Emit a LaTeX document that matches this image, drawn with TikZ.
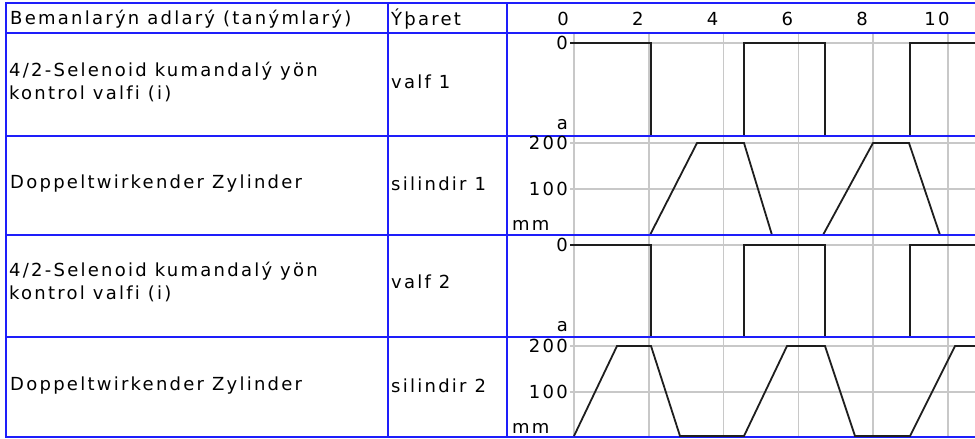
\documentclass[tikz,border=0pt]{standalone}
\usepackage{fontspec}
\setmainfont{DejaVu Sans}[LetterSpace=12.5,Ligatures=NoCommon]
\definecolor{tblblue}{RGB}{30,30,250}
\definecolor{grdgray}{RGB}{200,200,200}
\definecolor{sigblack}{RGB}{30,30,30}

\begin{document}
\begin{tikzpicture}[x=1pt,y=-1pt,
  tbl/.style={tblblue,line width=2pt},
  grd/.style={grdgray,line width=1.5pt},
  sig/.style={sigblack,line width=1.8pt,line join=miter},
  txt/.style={font=\fontsize{18}{23}\selectfont,inner sep=1pt},
  axl/.style={txt,anchor=east}]

\useasboundingbox (0,0) rectangle (975,439);

% Grid
\foreach \t in {0,2,...,10}
  \draw[grd] ({574+37.4*\t},33) -- ({574+37.4*\t},437);
\foreach \y in {43,143,189,245,346,392}
  \draw[grd] (570,\y) -- (975,\y);

% Valves
\foreach \hi/\lo in {43/136,245/337}{
\draw[sig] (570,\hi) -- (651,\hi) -- (651,\lo);
\draw[sig] (744,\lo) -- (744,\hi) -- (825,\hi) -- (825,\lo);
\draw[sig] (910,\lo) -- (910,\hi) -- (975,\hi);
}

% Cylinder 1
\draw[sig] (574,235) -- (650,235) -- (697,143) -- (744,143) -- (772,235)
  -- (823,235) -- (873,143) -- (909,143) -- (940,235) -- (975,235);

% Table
\foreach \y in {3,33,136,235,337,437}
  \draw[tbl] (6,\y) -- (975,\y);
\foreach \x in {6,388,507}
  \draw[tbl] (\x,2) -- (\x,438);

% Cylinder 2
\draw[sig] (574,436) -- (617,346) -- (651,346) -- (680,436) -- (744,436)
  -- (787,346) -- (825,346) -- (855,436) -- (910,436) -- (955,346) -- (975,346);

% Header
\node[txt,anchor=west] (hdname) at (9,19) {Bemanlarýn adlarý (tanýmlarý)};
\node[txt,anchor=west] (hdsig) at (390,19) {Ýþaret};
\foreach \t in {0,2,...,10}
  \node[txt] (hd\t) at ({574+37.4*\t-11},19) {\t};

% Rows
\node[txt,anchor=west,align=left] (name1) at (8,82) {4/2-Selenoid kumandalý yön\\kontrol valfi (i)};
\node[txt,anchor=west] (sig1) at (390,82) {valf 1};
\node[txt,anchor=west] (name2) at (9,184) {Doppeltwirkender Zylinder};
\node[txt,anchor=west] (sig2) at (390,184) {silindir 1};
\node[txt,anchor=west,align=left] (name3) at (8,282) {4/2-Selenoid kumandalý yön\\kontrol valfi (i)};
\node[txt,anchor=west] (sig3) at (390,282) {valf 2};
\node[txt,anchor=west] (name4) at (9,386) {Doppeltwirkender Zylinder};
\node[txt,anchor=west] (sig4) at (390,386) {silindir 2};

% Axis labels
\node[axl] (v1hi) at (569,43) {0};
\node[axl] (v1lo) at (569,125) {a};
\node[axl] (c1top) at (569,143) {200};
\node[axl] (c1mid) at (569,189) {100};
\node[txt,anchor=west] (c1unit) at (511,225) {mm};
\node[axl] (v2hi) at (569,245) {0};
\node[axl] (v2lo) at (569,327) {a};
\node[axl] (c2top) at (569,346) {200};
\node[axl] (c2mid) at (569,392) {100};
\node[txt,anchor=west] (c2unit) at (511,428) {mm};

\end{tikzpicture}
\end{document}
